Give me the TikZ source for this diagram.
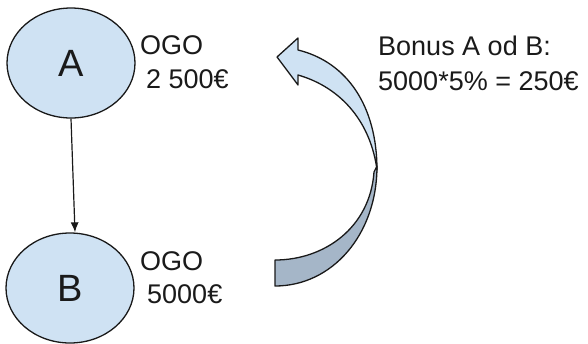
\documentclass[tikz,border=0pt]{standalone}
\usepackage{fontspec}
\setmainfont{Liberation Sans}
\usetikzlibrary{arrows.meta,calc,shapes.geometric}
\definecolor{lightblue}{HTML}{CFE2F3}
\definecolor{backblue}{HTML}{A5B6C8}
\definecolor{txt}{HTML}{1A1A1A}
\begin{document}
\begin{tikzpicture}[x=1pt,y=-1pt,
  bubble/.style={ellipse,draw=black!90,line width=1.3pt,fill=lightblue,minimum width=128pt,minimum height=110pt,inner sep=0pt,font=\fontsize{38}{40}\selectfont,text=txt},
  lbl/.style={anchor=base west,inner sep=0pt,font=\fontsize{27}{30}\selectfont,text=txt},
  shape edge/.style={draw=black!90,line width=1.3pt,line join=round}]
\useasboundingbox (0,0) rectangle (588,343);
\node[bubble] (A) at (71,63) {A};
\node[bubble] (B) at (70,288) {B};
\draw[line width=1.2pt,black!90,-{Latex[length=10pt,width=8pt]}] (A.south) -- ([xshift=5pt]B.north);
\node[lbl] (a1) at (140,54) {OGO};
\node[lbl] (a2) at (146,88) {2 500€};
\node[lbl] (b1) at (140,270) {OGO};
\node[lbl] (b2) at (147,303) {5000€};
\node[lbl] (t1) at (378,55) {Bonus A od B:};
\node[lbl] (t2) at (378,90) {5000*5\% = 250€};
% curved arrow: back (lower) part
\path[shape edge,fill=backblue] (377,166) .. controls (377,235) and (332,286) .. (275,286)
  -- (275,260) .. controls (324,260) and (370,228) .. (374,172) -- cycle;
% front (upper) part with head
\path[shape edge,fill=lightblue] (298,50) .. controls (347,62) and (377,106) .. (377,170)
  .. controls (371,124) and (343,88) .. (298,75)
  -- (298,85) -- (277,57) -- (298,38) -- cycle;
\end{tikzpicture}
\end{document}
